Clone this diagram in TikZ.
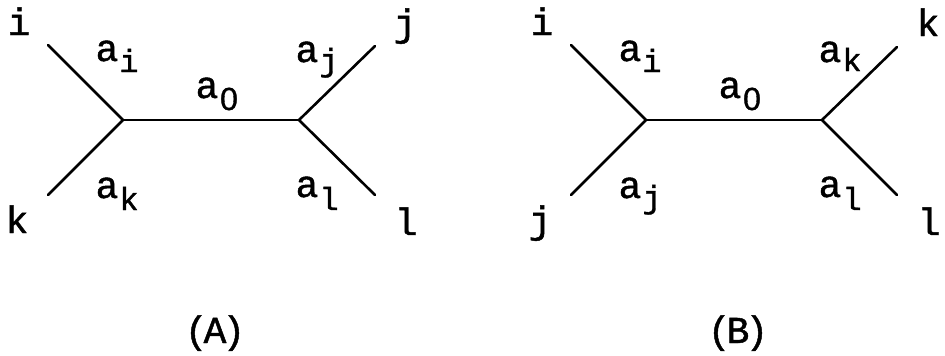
\documentclass[tikz,border=0pt]{standalone}
\usepackage{fontspec}
\setmainfont{Liberation Mono}[FakeBold=1.2,BoldFont=Liberation Mono]
\newfontfamily\zerofont{Liberation Sans}[FakeBold=1.0]
\begin{document}
\begin{tikzpicture}[x=1pt,y=-1pt,
  edge/.style={line width=2.6pt,line cap=round,line join=round},
  lbl/.style={inner sep=0pt,anchor=base,font=\fontsize{38}{38}\bfseries},
  sub/.style={inner sep=0pt,anchor=base,font=\fontsize{32}{32}\bfseries}]
\useasboundingbox (0,0) rectangle (945,356);
% ---------- (A) ----------
\coordinate (AL) at (123,120);
\coordinate (AR) at (299,120);
\coordinate (Ai) at (48,45);
\coordinate (Ak) at (48,195);
\coordinate (Aj) at (375,46);
\coordinate (Al) at (375,195);
\draw[edge] (Ai) -- (AL) -- (Ak);
\draw[edge] (AL) -- (AR);
\draw[edge] (Aj) -- (AR) -- (Al);
\node[lbl] (Ati) at (19,35) {i};
\node[lbl] (Atk) at (17,233) {k};
\node[lbl] (Atj) at (405,36) {j};
\node[lbl] (Atl) at (406,235) {l};
\node[lbl] (Aai) at (107,61) {a};
\node[sub] (Asi) at (129,72) {i};
\node[lbl] (Aa0) at (207,98) {a};
\node[sub] (As0) at (229,110) {\zerofont\mdseries 0};
\node[lbl] (Aak) at (107,198) {a};
\node[sub] (Ask) at (129,210) {k};
\node[lbl] (Aaj) at (307,62) {a};
\node[sub] (Asj) at (329,71) {j};
\node[lbl] (Aal) at (307,197) {a};
\node[sub] (Asl) at (329,210) {l};
\node[lbl] (capA) at (215,343) {(\kern-4pt A\kern-4pt)};
% ---------- (B) ----------
\coordinate (BL) at (646,120);
\coordinate (BR) at (822,120);
\coordinate (Bi) at (571,45);
\coordinate (Bj) at (571,195);
\coordinate (Bk) at (897,47);
\coordinate (Bl) at (897,195);
\draw[edge] (Bi) -- (BL) -- (Bj);
\draw[edge] (BL) -- (BR);
\draw[edge] (Bk) -- (BR) -- (Bl);
\node[lbl] (Bti) at (542,35) {i};
\node[lbl] (Btj) at (540,233) {j};
\node[lbl] (Btk) at (928,36) {k};
\node[lbl] (Btl) at (929,235) {l};
\node[lbl] (Bai) at (630,61) {a};
\node[sub] (Bsi) at (652,72) {i};
\node[lbl] (Ba0) at (730,98) {a};
\node[sub] (Bs0) at (752,110) {\zerofont\mdseries 0};
\node[lbl] (Baj) at (630,198) {a};
\node[sub] (Bsj) at (652,208) {j};
\node[lbl] (Bak) at (830,62) {a};
\node[sub] (Bsk) at (852,71) {k};
\node[lbl] (Bal) at (830,197) {a};
\node[sub] (Bsl) at (852,210) {l};
\node[lbl] (capB) at (738,343) {(\kern-4pt B\kern-4pt)};
\end{tikzpicture}
\end{document}
